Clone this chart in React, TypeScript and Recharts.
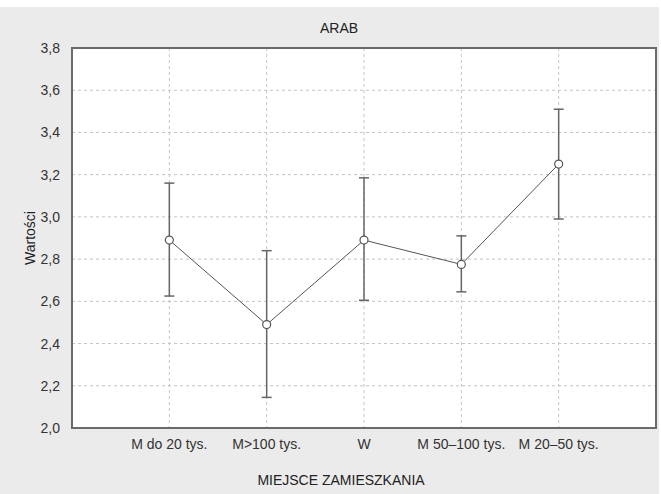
import { ComposedChart, Line, XAxis, YAxis, CartesianGrid, ErrorBar, ReferenceArea } from 'recharts';

const categories = ['M do 20 tys.', 'M>100 tys.', 'W', 'M 50–100 tys.', 'M 20–50 tys.'];
const means = [2.89, 2.49, 2.89, 2.775, 3.25];
const lows = [2.625, 2.145, 2.605, 2.645, 2.99];
const highs = [3.16, 2.84, 3.185, 2.91, 3.51];
const yTicks = [2.0, 2.2, 2.4, 2.6, 2.8, 3.0, 3.2, 3.4, 3.6, 3.8];

const data = categories.map((name, i) => ({
  x: i + 1,
  name,
  mean: means[i],
  err: [means[i] - lows[i], highs[i] - means[i]],
}));

const FONT = '"Liberation Sans", Arial, sans-serif';

const App = () => {
  return (
    <div style={{ position: 'absolute', left: 0, top: 0, width: 661, height: 494, background: '#fff' }}>
      <div style={{ position: 'absolute', left: 0, top: 7, width: 659, height: 487, background: '#ebebeb' }} />
      <div style={{ position: 'absolute', left: 0, top: 0 }}>
        <ComposedChart width={661} height={494} data={data} margin={{ top: 48, right: 5, left: 0, bottom: 0 }}>
          <CartesianGrid fill="#fff" stroke="#c4c4c4" strokeDasharray="3 3" />
          <XAxis
            dataKey="x"
            type="number"
            domain={[0, 6]}
            ticks={[1, 2, 3, 4, 5]}
            tickFormatter={(v) => categories[v - 1] ?? ''}
            height={66}
            axisLine={false}
            tickLine={false}
            tick={{ fontSize: 14, fill: '#333', fontFamily: FONT }}
            tickMargin={5}
          />
          <YAxis
            type="number"
            domain={[2, 3.8]}
            ticks={yTicks}
            tickFormatter={(v) => v.toFixed(1).replace('.', ',')}
            width={72}
            axisLine={false}
            tickLine={false}
            tick={{ fontSize: 14, fill: '#333', fontFamily: FONT }}
            tickMargin={6}
            interval={0}
          />
          <ReferenceArea x1={0} x2={6} y1={2} y2={3.8} fill="none" stroke="#6a6a6a" strokeWidth={2} ifOverflow="visible" />
          <Line
            dataKey="mean"
            stroke="#555"
            strokeWidth={1}
            isAnimationActive={false}
            dot={{ r: 4, fill: '#fff', stroke: '#555', strokeWidth: 1.2 }}
            activeDot={false}
          >
            <ErrorBar dataKey="err" width={5} stroke="#666" strokeWidth={1.5} direction="y" />
          </Line>
        </ComposedChart>
      </div>
      <svg width={661} height={494} style={{ position: 'absolute', left: 0, top: 0, pointerEvents: 'none' }}>
        <text x={339} y={33} textAnchor="middle" fontSize={14} fill="#222" fontFamily={FONT}>ARAB</text>
        <text x={341} y={485} textAnchor="middle" fontSize={14} fill="#222" fontFamily={FONT}>MIEJSCE ZAMIESZKANIA</text>
        <text x={35} y={238} textAnchor="middle" fontSize={14} fill="#222" fontFamily={FONT} transform="rotate(-90 35 238)">Wartości</text>
      </svg>
    </div>
  );
};

export default App;
